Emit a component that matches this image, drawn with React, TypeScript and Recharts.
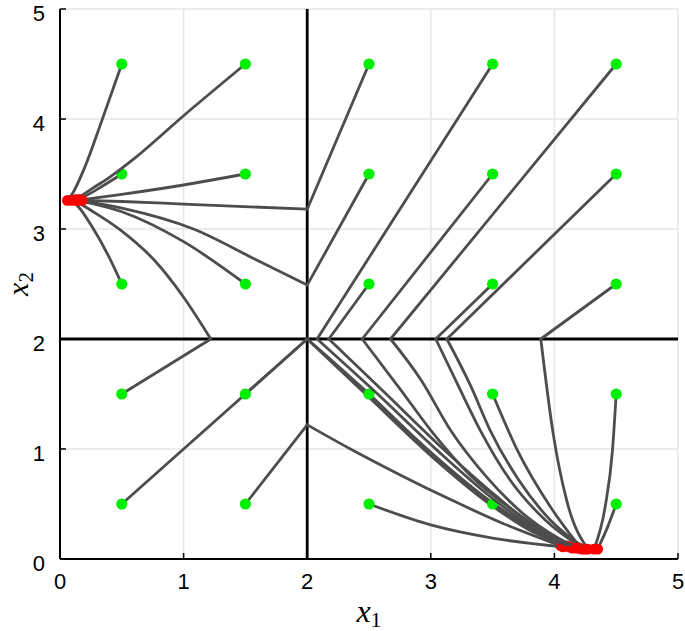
import React from 'react';
import { ScatterChart, Scatter, XAxis, YAxis, CartesianGrid, ReferenceLine, Label } from 'recharts';

type Pt = [number, number];
// one trajectory, split into pieces at the switching lines x1 = 2 and x2 = 2
type Path = Pt[][];

const axisTicks = [0, 1, 2, 3, 4, 5];
const switchX1 = 2;
const switchX2 = 2;

// trajectories, start point first, end point last
const p05_05: Path = [[[0.5, 0.5], [2, 2]], [[2, 2], [2.5, 1.5], [3.0, 0.96], [3.5, 0.5], [3.8, 0.27], [4.1, 0.12]]];
const p05_15: Path = [[[0.5, 1.5], [1.22, 2]], [[1.22, 2], [1.0, 2.38], [0.76, 2.72], [0.49, 2.99], [0.25, 3.17], [0.12, 3.26]]];
const p05_25: Path = [[[0.5, 2.5], [0.39, 2.76], [0.26, 3.02], [0.15, 3.2], [0.09, 3.26]]];
const p05_35: Path = [[[0.5, 3.5], [0.3, 3.36], [0.16, 3.27]]];
const p05_45: Path = [[[0.5, 4.5], [0.34, 3.99], [0.2, 3.56], [0.1, 3.32], [0.06, 3.26]]];
const p15_05: Path = [[[1.5, 0.5], [2, 1.22]], [[2, 1.22], [2.35, 1.0], [2.76, 0.76], [3.16, 0.54], [3.57, 0.33], [4.05, 0.12]]];
const p15_15: Path = [[[1.5, 1.5], [2, 2]], [[2, 2], [2.5, 1.47], [3.0, 0.94], [3.5, 0.48], [3.82, 0.25], [4.12, 0.11]]];
const p15_25: Path = [[[1.5, 2.5], [1.0, 2.885], [0.5, 3.157], [0.14, 3.26]]];
const p15_35: Path = [[[1.5, 3.5], [1.0, 3.4], [0.5, 3.315], [0.17, 3.265]]];
const p15_45: Path = [[[1.5, 4.5], [1.0, 4.03], [0.6, 3.64], [0.4, 3.47], [0.25, 3.36], [0.13, 3.27]]];
const p25_05: Path = [[[2.5, 0.5], [3.0, 0.31], [3.5, 0.19], [4.07, 0.11]]];
const p25_15: Path = [[[2.5, 1.5], [3.0, 0.97], [3.5, 0.51], [3.83, 0.27], [4.15, 0.1]]];
const p25_25: Path = [[[2.5, 2.5], [2.175, 2]], [[2.175, 2], [2.62, 1.52], [3.1, 1.0], [3.52, 0.58], [3.86, 0.28], [4.17, 0.1]]];
const p25_35: Path = [[[2.5, 3.5], [2, 2.49]], [[2, 2.49], [1.57, 2.73], [1.08, 3.0], [0.5, 3.19], [0.15, 3.26]]];
const p25_45: Path = [[[2.5, 4.5], [2, 3.18]], [[2, 3.18], [1.0, 3.227], [0.5, 3.25], [0.18, 3.26]]];
const p35_05: Path = [[[3.5, 0.5], [3.8, 0.27], [4.2, 0.1]]];
const p35_15: Path = [[[3.5, 1.5], [3.7, 0.99], [3.97, 0.47], [4.22, 0.09]]];
const p35_25: Path = [[[3.5, 2.5], [3.04, 2]], [[3.04, 2], [3.22, 1.58], [3.4, 1.17], [3.64, 0.72], [3.93, 0.35], [4.24, 0.09]]];
const p35_35: Path = [[[3.5, 3.5], [2.445, 2]], [[2.445, 2], [2.755, 1.54], [3.0, 1.17], [3.32, 0.76], [3.73, 0.39], [4.14, 0.1]]];
const p35_45: Path = [[[3.5, 4.5], [2.08, 2]], [[2.08, 2], [2.55, 1.52], [3.05, 0.99], [3.5, 0.55], [3.85, 0.27], [4.19, 0.1]]];
const p45_05: Path = [[[4.5, 0.5], [4.43, 0.29], [4.35, 0.09]]];
const p45_15: Path = [[[4.5, 1.5], [4.47, 0.99], [4.41, 0.47], [4.32, 0.09]]];
const p45_25: Path = [[[4.5, 2.5], [3.89, 2]], [[3.89, 2], [3.99, 1.14], [4.1, 0.53], [4.27, 0.09]]];
const p45_35: Path = [[[4.5, 3.5], [3.13, 2]], [[3.13, 2], [3.32, 1.58], [3.48, 1.17], [3.71, 0.72], [3.97, 0.35], [4.26, 0.09]]];
const p45_45: Path = [[[4.5, 4.5], [2.674, 2]], [[2.674, 2], [2.92, 1.63], [3.16, 1.17], [3.44, 0.76], [3.77, 0.39], [4.18, 0.1]]];

// drawn in this order, later ones cover earlier dots
const trajectories: Path[] = [
  p05_05, p05_15, p05_25, p05_35, p05_45,
  p15_05, p15_15, p15_25, p15_35, p15_45,
  p25_05, p25_15, p25_25, p25_35, p25_45,
  p35_05, p35_15, p35_25, p35_35, p35_45,
  p45_05, p45_15, p45_25, p45_35, p45_45,
];

const LINE_COLOR = '#4d4d4d';
const START_COLOR = '#00ee00';
const END_COLOR = '#ff0000';
const TICK_FONT = '"Liberation Sans", Arial, Helvetica, sans-serif';
const MATH_FONT = '"Liberation Serif", "Times New Roman", serif';

const toRows = (seg: Pt[]) => seg.map(([x, y]) => ({ x, y }));
// monotoneX wants increasing x, the look of the piece is the same
const lineRows = (seg: Pt[]) => toRows([...seg].sort((a, b) => a[0] - b[0]));

const NoShape = () => <g />;
const StartDot = (p: any) => <circle cx={p.cx} cy={p.cy} r={5.6} fill={START_COLOR} />;
const EndDot = (p: any) => <circle cx={p.cx} cy={p.cy} r={5.4} fill={END_COLOR} />;

const XTick = (p: any) => (
  <g>
    <line x1={p.x} x2={p.x} y1={p.y} y2={p.y - 6} stroke="#000" strokeWidth={1.5} />
    <text x={p.x} y={p.y + 30} textAnchor="middle" fontSize={22} fontFamily={TICK_FONT} fill="#000">
      {p.payload.value}
    </text>
  </g>
);

const YTick = (p: any) => (
  <g>
    <line x1={p.x} x2={p.x + 6} y1={p.y} y2={p.y} stroke="#000" strokeWidth={1.5} />
    <text x={p.x - 15} y={p.y + 12} textAnchor="end" fontSize={22} fontFamily={TICK_FONT} fill="#000">
      {p.payload.value}
    </text>
  </g>
);

const XTitle = (p: any) => {
  const vb = p.viewBox;
  return (
    <text x={vb.x + vb.width / 2} y={vb.y + 63} textAnchor="middle" fontFamily={MATH_FONT} fontSize={32} fill="#000">
      <tspan fontStyle="italic">x</tspan>
      <tspan fontSize={22} dy={5}>1</tspan>
    </text>
  );
};

const YTitle = (p: any) => {
  const vb = p.viewBox;
  const cy = vb.y + vb.height / 2;
  return (
    <text
      transform={`translate(28, ${cy}) rotate(-90)`}
      x={0}
      y={0}
      textAnchor="middle"
      fontFamily={MATH_FONT}
      fontSize={30}
      fill="#000"
    >
      <tspan fontStyle="italic">x</tspan>
      <tspan fontSize={21} dy={5}>2</tspan>
    </text>
  );
};

export default function App() {
  return (
    <div style={{ position: 'absolute', left: 0, top: 0, width: 685, height: 631, background: '#fff' }}>
      <ScatterChart width={685} height={631} margin={{ top: 9, right: 7, left: 0, bottom: 0 }}>
        <CartesianGrid stroke="#e6e6e6" strokeWidth={1.5} />
        <XAxis
          type="number"
          dataKey="x"
          domain={[0, 5]}
          ticks={axisTicks}
          interval={0}
          allowDataOverflow
          height={72}
          tickSize={0}
          tickMargin={0}
          tickLine={false}
          axisLine={{ stroke: '#000', strokeWidth: 2 }}
          tick={XTick}
        >
          <Label content={XTitle} />
        </XAxis>
        <YAxis
          type="number"
          dataKey="y"
          domain={[0, 5]}
          ticks={axisTicks}
          interval={0}
          allowDataOverflow
          width={60}
          tickSize={0}
          tickMargin={0}
          tickLine={false}
          axisLine={{ stroke: '#000', strokeWidth: 2 }}
          tick={YTick}
        >
          <Label content={YTitle} />
        </YAxis>
        <ReferenceLine x={switchX1} stroke="#000" strokeWidth={2.8} />
        <ReferenceLine y={switchX2} stroke="#000" strokeWidth={2.8} />
        {trajectories.flatMap((path, i) => {
          const start = path[0][0];
          const lastSeg = path[path.length - 1];
          const end = lastSeg[lastSeg.length - 1];
          return [
            ...path.map((seg, j) => (
              <Scatter
                key={`line-${i}-${j}`}
                data={lineRows(seg)}
                line={{ stroke: LINE_COLOR, strokeWidth: 2.8, strokeLinecap: 'round' }}
                lineJointType="monotoneX"
                shape={NoShape}
                isAnimationActive={false}
              />
            )),
            <Scatter key={`start-${i}`} data={toRows([start])} shape={StartDot} isAnimationActive={false} />,
            <Scatter key={`end-${i}`} data={toRows([end])} shape={EndDot} isAnimationActive={false} />,
          ];
        })}
      </ScatterChart>
    </div>
  );
}
